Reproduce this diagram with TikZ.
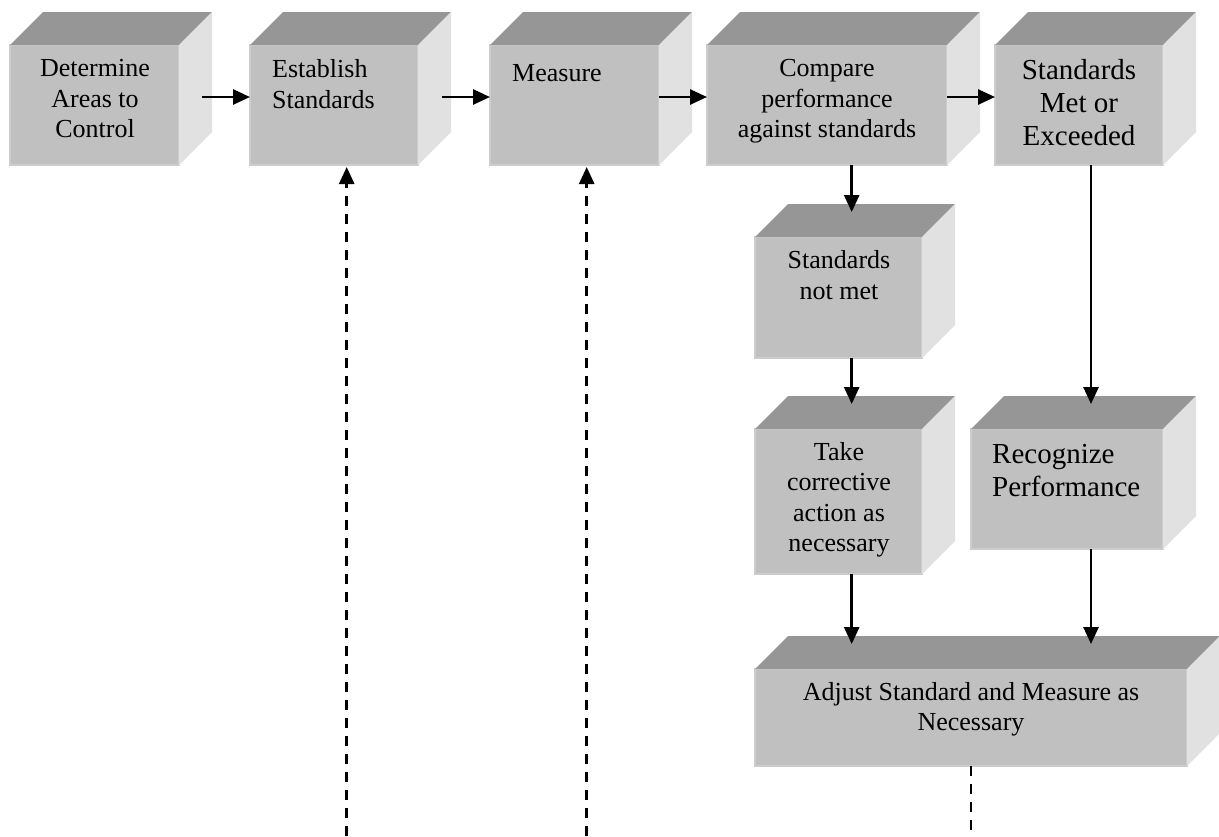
\documentclass[tikz,border=0pt]{standalone}
\usepackage{fontspec}
\setmainfont{Liberation Serif}
\usetikzlibrary{arrows.meta,calc}
\definecolor{frontc}{HTML}{C0C0C0}
\definecolor{frontrim}{HTML}{CDCDCD}
\definecolor{topc}{HTML}{969696}
\definecolor{sidec}{HTML}{E1E1E1}
\newcommand\cubebox[5]{%
  \node[frontface, minimum width={#4-#2}, minimum height={#5-#3}] (#1) at ({(#2+#4)/2},{(#3+#5)/2}) {};
  \fill[topc] (#1.north west) -- ++(33,-33) -- ($(#1.north east)+(33,-33)$) -- (#1.north east) -- cycle;
  \fill[sidec] (#1.north east) -- ++(33,-33) -- ($(#1.south east)+(33,-33)$) -- (#1.south east) -- cycle;
}
\begin{document}
\begin{tikzpicture}[x=1pt,y=-1pt,
  frontface/.style={rectangle, fill=frontc, draw=frontrim, line width=1.5pt, inner sep=0pt, outer sep=0pt},
  txt/.style={inner sep=0pt, font=\fontsize{26}{30.5}\selectfont, execute at begin node=\strut, align=center},
  bigtxt/.style={inner sep=0pt, font=\fontsize{29}{33}\selectfont, execute at begin node=\strut, align=center},
  arr/.style={line width=2.7pt, -{Triangle[length=17pt,width=15pt]}},
  darr/.style={line width=2.6pt, dash pattern=on 10pt off 8pt, -{Triangle[length=17pt,width=15pt]}},
  dline/.style={line width=2.6pt, dash pattern=on 10pt off 8pt}]
\useasboundingbox (0,0) rectangle (1219,836);
\fill[white] (0,0) rectangle (1219,836);

\cubebox{b1}{10}{45}{179}{165}
\cubebox{b2}{250}{45}{418}{165}
\cubebox{b3}{490}{45}{659}{165}
\cubebox{b4}{707}{45}{947}{165}
\cubebox{b5}{995}{45}{1163}{165}
\cubebox{b6}{755}{237}{922}{358}
\cubebox{b7}{755}{429}{922}{574}
\cubebox{b8}{971}{429}{1163}{549}
\cubebox{b9}{755}{669}{1187}{766}

\node[txt, anchor=north] (t1) at (95,59.5) {Determine\\Areas to\\Control};
\node[txt, align=left, anchor=north west] (t2) at (272,59.5) {Establish\\Standards};
\node[txt, align=left, anchor=north west] (t3) at (512,59.5) {Measure};
\node[txt, anchor=north] (t4) at (827,59.5) {Compare\\performance\\against standards};
\node[bigtxt, anchor=north] (t5) at (1079,59) {Standards\\Met or\\Exceeded};
\node[txt, anchor=north] (t6) at (839,250.5) {Standards\\not met};
\node[txt, anchor=north] (t7) at (839,442) {Take\\corrective\\action as\\necessary};
\node[bigtxt, align=left, anchor=north west] (t8) at (992,443.6) {Recognize\\Performance};
\node[txt, anchor=north] (t9) at (971,682) {Adjust Standard and Measure as\\Necessary};

% horizontal arrows
\draw[arr] ($(b1.east)+(23,-8)$) -- ($(b2.west)+(0,-8)$);
\draw[arr] ($(b2.east)+(24,-8)$) -- ($(b3.west)+(0,-8)$);
\draw[arr] ($(b3.east)+(0,-8)$) -- ($(b4.west)+(0,-8)$);
\draw[arr] ($(b4.east)+(0,-8)$) -- ($(b5.west)+(0,-8)$);

% vertical arrows
\coordinate (colA) at (851.7,0);
\coordinate (colB) at (1091,0);
\draw[arr] (b4.south -| colA) -- ($(b6.north -| colA)+(0,-25)$);
\draw[arr] (b6.south -| colA) -- ($(b7.north -| colA)+(0,-25)$);
\draw[arr] (b5.south -| colB) -- ($(b8.north -| colB)+(0,-25)$);
\draw[arr] (b7.south -| colA) -- ($(b9.north -| colA)+(0,-25)$);
\draw[arr] (b8.south -| colB) -- ($(b9.north -| colB)+(0,-25)$);

% dashed feedback lines
\coordinate (e1) at (346.7,836);
\coordinate (e2) at (586.7,836);
\coordinate (e3) at (971,836);
\draw[darr] (e1) -- ($(b2.south -| e1)+(0,2)$);
\draw[darr] (e2) -- ($(b3.south -| e2)+(0,2)$);
\draw[dline] (b9.south) -- (e3);
\end{tikzpicture}
\end{document}
